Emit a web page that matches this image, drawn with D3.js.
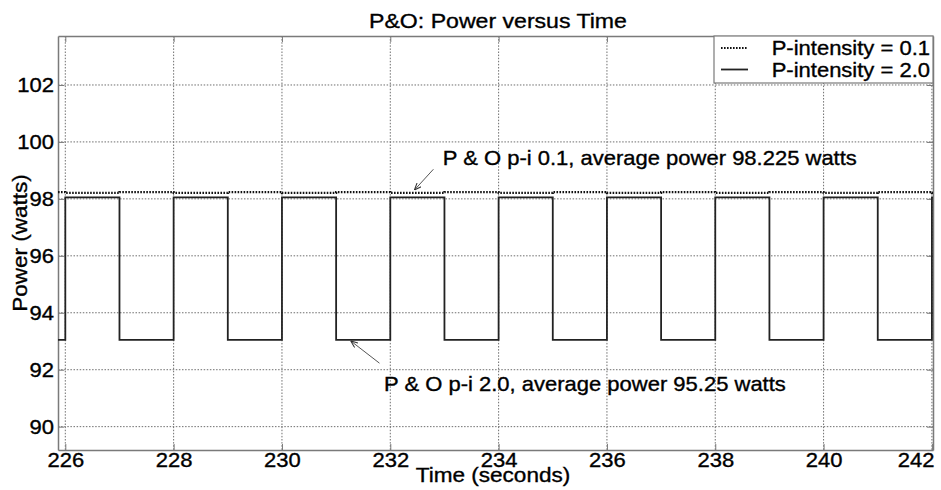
<!DOCTYPE html>
<html>
<head>
<meta charset="utf-8">
<script src="https://cdn.jsdelivr.net/npm/d3@7"></script>
<style>
  body { margin: 0; background: #fff; }
  svg { display: block; }
  text { font-family: "Liberation Sans", Arial, Helvetica, sans-serif; fill: #000; stroke: #000; stroke-width: 0.35px; }
</style>
</head>
<body>
<svg id="chart" width="941" height="490"></svg>
<script>
// ---------------- data ----------------
const xTicks = [226, 228, 230, 232, 234, 236, 238, 240, 242];
const yTicks = [90, 92, 94, 96, 98, 100, 102];

// P-intensity = 2.0 : step series (value holds until next time)
const p20Time  = [225.865, 226, 227, 228, 229, 230, 231, 232, 233, 234, 235, 236, 237, 238, 239, 240, 241, 242, 242.02];
const p20Power = [93.05, 98.05, 93.05, 98.05, 93.05, 98.05, 93.05, 98.05, 93.05, 98.05, 93.05, 98.05, 93.05, 98.05, 93.05, 98.05, 93.05, 98.05, 98.05];

// P-intensity = 0.1 : nearly flat step series
const p01Time  = [225.865, 226, 227, 228, 229, 230, 231, 232, 233, 234, 235, 236, 237, 238, 239, 240, 241, 242, 242.02];
const p01Power = [98.24, 98.21, 98.24, 98.21, 98.24, 98.21, 98.24, 98.21, 98.24, 98.21, 98.24, 98.21, 98.24, 98.21, 98.24, 98.21, 98.24, 98.21, 98.21];

const seriesNames = ["P-intensity = 0.1", "P-intensity = 2.0"];
const titleText = "P&O: Power versus Time";
const xLabel = "Time (seconds)";
const yLabel = "Power (watts)";
const note1 = "P & O p-i 0.1, average power 98.225 watts";
const note2 = "P & O p-i 2.0, average power 95.25 watts";

// ---------------- layout ----------------
const L = 58, R = 933, T = 36, B = 450;
const SX = 1.1; // horizontal stretch of the original text
const svg = d3.select("#chart");

const x = d3.scaleLinear().domain([225.865, 242.02]).range([L, R]);
const y = d3.scaleLinear().domain([89.18, 103.72]).range([B, T]);

const frameColor = "#7a7a7a";
const gridColor = "#6e6e6e";

// grid
const grid = svg.append("g");
grid.selectAll("line.gx").data(xTicks).join("line")
  .attr("x1", d => x(d)).attr("x2", d => x(d)).attr("y1", T).attr("y2", B)
  .attr("stroke", gridColor).attr("stroke-width", 1).attr("stroke-dasharray", "1.5,1.6");
grid.selectAll("line.gy").data(yTicks).join("line")
  .attr("y1", d => y(d)).attr("y2", d => y(d)).attr("x1", L).attr("x2", R)
  .attr("stroke", gridColor).attr("stroke-width", 1).attr("stroke-dasharray", "1.5,1.6");

// axes (ticks inward)
const fontPx = 20;
const xAxis = svg.append("g").attr("transform", `translate(0,${B})`)
  .call(d3.axisBottom(x).tickValues(xTicks).tickFormat(d3.format("d")).tickSizeInner(-6).tickSizeOuter(0).tickPadding(3));
const yAxis = svg.append("g").attr("transform", `translate(${L},0)`)
  .call(d3.axisLeft(y).tickValues(yTicks).tickFormat(d3.format("d")).tickSizeInner(-6).tickSizeOuter(0).tickPadding(4));
const xTop = svg.append("g").attr("transform", `translate(0,${T})`)
  .call(d3.axisTop(x).tickValues(xTicks).tickFormat("").tickSizeInner(-6).tickSizeOuter(0));
const yRight = svg.append("g").attr("transform", `translate(${R},0)`)
  .call(d3.axisRight(y).tickValues(yTicks).tickFormat("").tickSizeInner(-6).tickSizeOuter(0));
[xAxis, yAxis, xTop, yRight].forEach(g => {
  g.select(".domain").attr("stroke", frameColor).attr("stroke-width", 1.5);
  g.selectAll(".tick line").attr("stroke", frameColor).attr("stroke-width", 1);
  g.selectAll(".tick text").attr("font-size", fontPx).attr("fill", "#000")
    .attr("font-family", "'Liberation Sans', Arial, sans-serif");
});
xAxis.selectAll(".tick text").attr("dy", "0.71em")
  .attr("transform", function() { const yy = +d3.select(this).attr("y"); return `translate(0,${yy}) scale(${SX},1) translate(0,${-yy})`; });
// last label kept inside the window (as in the original)
xAxis.selectAll(".tick text").filter(d => d === xTicks[xTicks.length - 1])
  .attr("text-anchor", "end").attr("x", R + 1 - x(xTicks[xTicks.length - 1]))
  .attr("transform", function() {
    const yy = +d3.select(this).attr("y"), xx = +d3.select(this).attr("x");
    return `translate(${xx},${yy}) scale(${SX},1) translate(${-xx},${-yy})`;
  });
yAxis.selectAll(".tick text")
  .attr("transform", function() { const xx = +d3.select(this).attr("x"); return `translate(${xx},0) scale(${SX},1) translate(${-xx},0)`; });

// series
const line = d3.line().curve(d3.curveStepAfter).x(d => x(d[0])).y(d => y(d[1]));
const p20 = p20Time.map((t, i) => [t, p20Power[i]]);
const p01 = p01Time.map((t, i) => [t, p01Power[i]]);

svg.append("path").datum(p20).attr("d", line)
  .attr("fill", "none").attr("stroke", "#222").attr("stroke-width", 1.8);
svg.append("path").datum(p01).attr("d", line)
  .attr("fill", "none").attr("stroke", "#111").attr("stroke-width", 2.2).attr("stroke-dasharray", "1.6,1.4");

// text helper with horizontal stretch
function stretchedText(px, py, str, size, anchor, rotate) {
  return svg.append("text")
    .attr("transform", `translate(${px},${py})${rotate ? " rotate(" + rotate + ")" : ""} scale(${SX},1)`)
    .attr("text-anchor", anchor).attr("font-size", size).text(str);
}

// title and axis labels
stretchedText(498, 28, titleText, 21, "middle");
stretchedText(493, 482, xLabel, 20.5, "middle");
stretchedText(27, 243, yLabel, 20.5, "middle", -90);

// annotations with arrows
svg.append("defs").append("marker")
  .attr("id", "arr").attr("viewBox", "0 0 10 10").attr("refX", 10).attr("refY", 5)
  .attr("markerWidth", 7).attr("markerHeight", 7).attr("orient", "auto")
  .attr("markerUnits", "userSpaceOnUse")
  .append("path").attr("d", "M0,1 L10,5 L0,9").attr("fill", "none").attr("stroke", "#333").attr("stroke-width", 1.5);

svg.append("line")
  .attr("x1", x(232.796)).attr("y1", y(99.04)).attr("x2", x(232.445)).attr("y2", y(98.31))
  .attr("stroke", "#555").attr("stroke-width", 1).attr("marker-end", "url(#arr)");
stretchedText(x(232.97), y(99.19), note1, 20, "start");

svg.append("line")
  .attr("x1", x(231.80)).attr("y1", y(92.23)).attr("x2", x(231.27)).attr("y2", y(93.01))
  .attr("stroke", "#555").attr("stroke-width", 1).attr("marker-end", "url(#arr)");
stretchedText(x(231.885), y(91.26), note2, 20, "start");

// legend
const lg = svg.append("g");
lg.append("rect").attr("x", 714).attr("y", T).attr("width", R - 714).attr("height", 47)
  .attr("fill", "#fff").attr("stroke", frameColor).attr("stroke-width", 1.2);
lg.append("line").attr("x1", 721).attr("x2", 748).attr("y1", 48).attr("y2", 48)
  .attr("stroke", "#111").attr("stroke-width", 2).attr("stroke-dasharray", "1.6,1.4");
lg.append("line").attr("x1", 721).attr("x2", 748).attr("y1", 69.5).attr("y2", 69.5)
  .attr("stroke", "#222").attr("stroke-width", 1.8);
stretchedText(930, 55, seriesNames[0], 20, "end");
stretchedText(930, 77, seriesNames[1], 20, "end");
</script>
</body>
</html>
